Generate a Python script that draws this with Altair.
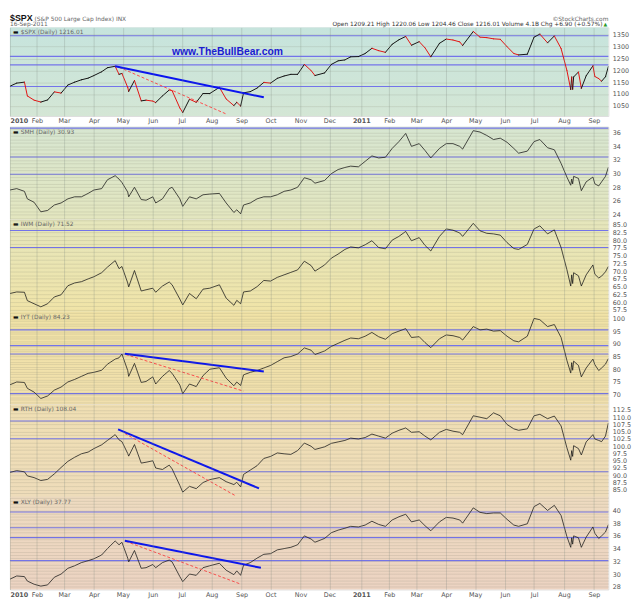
import altair as alt
import pandas as pd

# ------------------------------------------------------------------ data
dates_2010 = ["2010-01-04","2010-01-11","2010-01-19","2010-01-22","2010-01-29",
              "2010-02-05","2010-02-12","2010-02-19","2010-02-26",
              "2010-03-05","2010-03-12","2010-03-19","2010-03-26",
              "2010-04-01","2010-04-09","2010-04-15","2010-04-23","2010-04-27","2010-04-30",
              "2010-05-06","2010-05-07","2010-05-13","2010-05-20","2010-05-25",
              "2010-06-01","2010-06-04","2010-06-11","2010-06-18","2010-06-21","2010-06-29",
              "2010-07-02","2010-07-09","2010-07-16","2010-07-23","2010-07-30",
              "2010-08-09","2010-08-16","2010-08-24","2010-08-27","2010-08-31",
              "2010-09-03","2010-09-10","2010-09-17","2010-09-24",
              "2010-10-01","2010-10-08","2010-10-15","2010-10-22","2010-10-29",
              "2010-11-05","2010-11-12","2010-11-16","2010-11-26",
              "2010-12-03","2010-12-10","2010-12-17","2010-12-23","2010-12-31"]
dates_2011 = ["2011-01-07","2011-01-14","2011-01-21","2011-01-28",
              "2011-02-04","2011-02-11","2011-02-18","2011-02-24",
              "2011-03-04","2011-03-10","2011-03-16","2011-03-25",
              "2011-04-01","2011-04-08","2011-04-15","2011-04-18","2011-04-29",
              "2011-05-06","2011-05-13","2011-05-20","2011-05-27",
              "2011-06-03","2011-06-10","2011-06-15","2011-06-24",
              "2011-07-01","2011-07-07","2011-07-15","2011-07-22","2011-07-29",
              "2011-08-04","2011-08-08","2011-08-09","2011-08-10","2011-08-11",
              "2011-08-16","2011-08-19","2011-08-24","2011-08-31",
              "2011-09-02","2011-09-06","2011-09-09","2011-09-13","2011-09-16"]
dates = dates_2010 + dates_2011

spx = [1133,1146,1150,1092,1074, 1066,1075,1109,1104, 1138,1150,1160,1167,
       1178,1194,1211,1217,1183,1187, 1128,1111,1157,1071,1074,
       1070,1064,1092,1117,1114,1041, 1022,1078,1065,1102,1102,
       1128,1079,1051,1065,1049, 1105,1110,1125,1149, 1146,1166,1176,1183,1183,
       1225,1199,1178,1189, 1225,1240,1244,1257,1258,
       1271,1293,1283,1276, 1310,1329,1343,1306, 1321,1295,1257,1314,
       1332,1328,1320,1305,1364, 1340,1338,1333,1331, 1300,1271,1265,1268,
       1340,1353,1316,1345,1292, 1200,1119,1172,1120,1172,1193,1124,1177,1219,
       1174,1165,1154,1173,1216.01]
smh = [27.6,27.8,27.4,26.3,25.8, 24.4,24.6,25.4,25.7, 26.3,26.6,26.6,27.1,
       27.6,27.8,29.1,29.7,29.2,28.7, 27.3,26.6,28.0,26.2,26.1,
       26.6,25.7,26.3,27.8,28.0,26.3, 25.2,26.6,26.3,26.9,27.0,
       27.1,25.7,24.3,24.7,24.1, 25.4,25.7,26.3,26.6, 26.6,26.9,27.4,27.6,28.0,
       29.4,29.1,28.6,29.0, 30.0,30.6,30.9,31.1,31.0,
       31.8,32.6,32.3,32.4, 33.7,34.7,35.9,34.0, 34.4,33.4,32.3,33.7,
       34.4,34.4,34.0,33.6,36.3, 36.1,35.6,35.0,35.2, 34.6,33.7,33.0,33.3,
       34.7,35.0,33.8,33.5,31.5, 29.5,28.3,29.2,28.5,29.6,29.3,27.5,28.8,29.5,
       28.5,28.2,28.8,29.6,30.93]
iwm = [62.8,63.3,63.2,60.5,59.5, 58.5,59.5,61.7,62.4, 65.3,66.2,66.6,67.5,
       68.2,69.5,71.3,73.4,70.8,71.5, 66.2,64.9,70.2,63.6,64.0,
       64.5,63.2,65.2,66.5,65.6,61.0, 59.1,62.8,61.1,64.2,64.5,
       65.6,61.3,59.0,60.6,59.5, 63.3,63.6,65.0,67.0, 66.8,68.0,68.8,69.6,70.4,
       73.2,71.8,70.0,72.0, 74.2,75.5,77.0,77.8,77.5,
       78.5,79.8,77.6,77.2, 80.0,81.2,82.8,79.8, 80.8,78.3,76.5,81.2,
       83.6,83.2,82.3,81.2,85.4, 83.0,82.2,82.0,81.6, 79.2,77.3,77.0,78.6,
       83.6,84.6,82.0,83.3,77.6, 70.5,65.2,68.8,66.0,69.5,68.5,65.2,68.8,72.0,
       69.0,67.8,68.4,69.8,71.52]
iyt = [73.9,75.0,74.8,72.5,71.0, 68.5,69.5,71.8,73.0, 75.0,76.0,77.2,78.4,
       78.8,79.6,82.0,84.0,84.5,86.0, 79.5,77.2,82.3,74.8,75.2,
       77.0,74.2,77.2,79.5,78.4,73.8, 70.4,74.2,73.2,77.5,80.0,
       80.6,76.5,73.5,75.0,73.6, 77.8,78.8,79.5,80.5, 81.5,83.0,84.5,85.0,86.0,
       88.4,87.5,85.8,87.2, 89.0,90.2,91.4,92.3,92.0,
       93.0,94.5,92.8,91.8, 94.0,95.0,96.0,92.5, 92.8,90.5,88.5,92.0,
       93.5,93.2,92.5,91.5,96.8, 95.5,95.8,95.0,95.2, 93.0,91.2,90.8,93.0,
       100.0,99.5,96.8,97.6,92.5, 83.5,78.5,82.6,79.6,83.2,81.5,77.0,80.5,84.0,
       81.8,79.5,80.5,82.0,84.23]
rth = [91.0,91.6,91.2,89.8,89.2, 88.2,88.6,90.5,92.7, 94.8,96.2,97.4,98.0,
       99.2,100.5,102.0,104.0,102.2,101.6, 97.5,96.6,100.6,94.2,94.5,
       95.0,92.5,92.0,93.5,92.2,86.5, 84.2,86.2,85.4,87.5,88.5,
       89.2,87.8,86.8,87.6,86.0, 90.3,91.8,93.3,95.8, 96.5,97.7,97.4,97.2,98.5,
       101.1,100.0,98.9,99.8, 101.0,101.5,102.0,102.8,102.5,
       103.0,104.2,103.5,102.8, 104.5,105.5,106.3,104.8, 105.0,103.5,102.2,104.8,
       105.8,105.2,104.8,104.0,110.5, 110.0,109.5,111.5,110.5, 107.5,106.0,105.5,106.0,
       110.5,111.0,109.5,110.4,107.0, 99.5,95.2,98.5,96.5,100.2,99.2,97.0,101.5,104.0,
       102.5,102.0,101.6,103.5,108.04]
xly = [29.2,29.7,29.6,28.9,28.4, 28.1,28.3,29.5,30.0, 30.9,31.3,31.8,32.1,
       32.4,33.0,34.0,35.2,34.6,35.0, 32.5,31.9,33.7,30.9,31.0,
       31.5,31.0,31.8,32.2,31.9,29.6, 28.8,30.0,29.8,31.0,31.3,
       31.7,30.6,29.9,30.5,29.8, 31.4,31.8,32.5,33.1, 33.2,33.8,34.0,34.2,34.6,
       36.0,35.5,35.0,35.6, 36.5,36.9,37.2,37.5,37.4,
       37.7,38.3,37.8,37.5, 38.5,39.0,39.4,38.2, 38.5,37.6,36.8,38.2,
       38.9,38.8,38.5,38.0,40.4, 39.7,39.5,39.6,39.6, 38.6,37.7,37.5,37.9,
       40.6,41.1,40.0,40.8,39.2, 35.9,34.2,35.7,34.7,36.0,35.7,34.2,35.8,37.4,
       36.4,35.6,36.0,36.6,37.77]

# horizontal support/resistance levels (blue)
spx_levels = [1346, 1259, 1223, 1132]
smh_levels = [36.67, 32.45, 29.9]
iwm_levels = [83.1, 77.6]
iyt_levels = [95.5, 89.3, 86.0, 70.4]
rth_levels = [108.7, 102.6, 91.2]
xly_levels = [39.75, 37.28, 35.73, 32.11]

# trend lines: (start date, start value, end date, end value)
spx_blue = ("2010-04-23", 1217, "2010-09-24", 1086)
spx_red = ("2010-04-27", 1213, "2010-08-17", 1014)
iyt_blue = ("2010-05-03", 86.1, "2010-09-24", 79.1)
iyt_red = ("2010-05-04", 85.8, "2010-09-03", 71.4)
rth_blue = ("2010-04-26", 105.8, "2010-09-19", 85.5)
rth_red = ("2010-05-03", 104.4, "2010-08-26", 82.9)
xly_blue = ("2010-05-03", 35.23, "2010-09-21", 30.98)
xly_red = ("2010-05-04", 35.14, "2010-08-31", 28.42)

tick_dates = ["2010-01-04","2010-02-01","2010-03-01","2010-04-01","2010-05-01","2010-06-01",
              "2010-07-01","2010-08-01","2010-09-01","2010-10-01","2010-11-01","2010-12-01",
              "2011-01-03","2011-02-01","2011-03-01","2011-04-01","2011-05-01","2011-06-01",
              "2011-07-01","2011-08-01","2011-09-01"]
spx_ticks = [1050, 1100, 1150, 1200, 1250, 1300, 1350]

# ------------------------------------------------------------------ helpers
W = 608
START, END = "2010-01-04", "2011-09-16"
FONT = "DejaVu Sans"
LEVEL_BLUE = "#7474ea"


def dt(s):
    y, m, d = (int(p) for p in s.split("-"))
    return alt.DateTime(year=y, month=m, date=d, utc=True)


def xaxis(show_labels):
    common = dict(values=[dt(s) for s in tick_dates], ticks=False, domain=False, grid=True,
                  gridColor="#7f8a80", gridOpacity=0.28, gridWidth=1, zindex=1, title=None)
    if show_labels:
        return alt.Axis(labels=True,
                        labelExpr="utcmonth(datum.value) === 0 ? utcFormat(datum.value, '%Y') : utcFormat(datum.value, '%b')",
                        labelFontWeight={"condition": {"test": "utcmonth(datum.value) === 0", "value": "bold"},
                                         "value": "normal"},
                        labelFlush=True, labelOverlap=False, labelFontSize=6.5, labelColor="#555",
                        labelFont=FONT, labelPadding=2, **common)
    return alt.Axis(labels=False, **common)


def yaxis(values, expr):
    return alt.Axis(orient="right", values=values, labelExpr=expr, labelOverlap=False,
                    labelFontSize=6.5, labelColor="#555", labelFont=FONT, labelPadding=4,
                    ticks=False, domain=False, grid=True, gridColor="#7f7f6a", gridOpacity=0.22,
                    gridWidth=0.8, zindex=1, title=None)


def steps(lo, hi, step):
    out, v = [], lo
    while v <= hi + 1e-9:
        out.append(round(v, 3))
        v += step
    return out


def trend_df(t):
    return pd.DataFrame({"date": [t[0]], "v": [t[1]], "date2": [t[2]], "v2": [t[3]]})


def panel(label, vals, domain, yvals, yexpr, levels, grad, height, show_x, trends=None,
          colored=False, extra=None):
    X = alt.X("date:T", scale=alt.Scale(domain=[dt(START), dt(END)]), axis=xaxis(show_x), title=None)
    Y = alt.Y("v:Q", scale=alt.Scale(domain=domain, nice=False, zero=False), axis=yaxis(yvals, yexpr),
              title=None)
    one = pd.DataFrame({"a": [0]})
    layers = []
    bg = alt.Chart(one).mark_rect(fill=alt.Gradient(
        gradient="linear", x1=0, x2=0, y1=0, y2=1,
        stops=[alt.GradientStop(color=grad[0], offset=0), alt.GradientStop(color=grad[1], offset=1)]
    )).encode(x=alt.value(0), x2=alt.value(W), y=alt.value(0), y2=alt.value(height))
    layers.append(bg)
    layers.append(alt.Chart(pd.DataFrame({"v": levels})).mark_rule(
        color=LEVEL_BLUE, strokeWidth=1.1).encode(y=Y))
    if colored:
        seg = pd.DataFrame({"date": dates[:-1], "date2": dates[1:], "v": vals[:-1], "v2": vals[1:]})
        seg["dir"] = ["up" if b >= a else "down" for a, b in zip(vals[:-1], vals[1:])]
        layers.append(alt.Chart(seg).mark_rule(strokeWidth=1.0, strokeCap="round", clip=True).encode(
            x=X, x2=alt.X2("date2:T"), y=Y, y2=alt.Y2("v2:Q"),
            color=alt.Color("dir:N", scale=alt.Scale(domain=["up", "down"], range=["#111111", "#e31010"]),
                            legend=None)))
    else:
        df = pd.DataFrame({"date": dates, "v": vals})
        layers.append(alt.Chart(df).mark_line(color="#1a1a1a", strokeWidth=0.8, clip=True).encode(x=X, y=Y))
    if trends:
        blue, red = trends
        layers.append(alt.Chart(trend_df(red)).mark_rule(
            color="#ff4a4a", strokeWidth=1, strokeDash=[3, 2], clip=True).encode(
            x=X, x2=alt.X2("date2:T"), y=Y, y2=alt.Y2("v2:Q")))
        layers.append(alt.Chart(trend_df(blue)).mark_rule(
            color="#0a14f0", strokeWidth=2, clip=True).encode(
            x=X, x2=alt.X2("date2:T"), y=Y, y2=alt.Y2("v2:Q")))
    layers.append(alt.Chart(one).mark_text(text="▬", fontSize=6, align="left", baseline="middle",
                                           color="#111", font=FONT).encode(
        x=alt.value(3), y=alt.value(5)))
    layers.append(alt.Chart(one).mark_text(text=label, fontSize=6, align="left", baseline="middle",
                                           color="#666", font=FONT).encode(
        x=alt.value(11), y=alt.value(5)))
    if extra:
        layers.extend(extra)
    return alt.layer(*layers).properties(width=W, height=height)


def txt(text, x, y, size=6, color="#666", align="left", weight="normal", font=FONT, baseline="alphabetic"):
    return alt.Chart(pd.DataFrame({"a": [0]})).mark_text(
        text=text, fontSize=size, color=color, align=align, fontWeight=weight, font=font,
        baseline=baseline).encode(x=alt.value(x), y=alt.value(y))


header = [
    txt("$SPX", 0, -7, size=9, color="#111", weight="bold", font="Liberation Sans"),
    txt("(S&P 500 Large Cap Index)  INX", 25, -7, size=6),
    txt("16-Sep-2011", 0, -1, size=6),
    txt("©StockCharts.com", W, -7, size=6, align="right"),
    txt("Open 1209.21  High 1220.06  Low 1204.46  Close 1216.01  Volume 4.1B  Chg +6.90 (+0.57%)",
        W - 6, -1, size=6, color="#333", align="right"),
    txt("▲", W - 5, -1, size=5, color="#2a9a2a"),
    txt("www.TheBullBear.com", 221, 25, size=10.5, color="#1a1ad2", align="center", weight="bold",
        font="Liberation Sans", baseline="middle"),
]

p1 = panel("$SPX (Daily) 1216.01", spx, [1007, 1381], spx_ticks, "format(datum.value, 'd')",
           spx_levels, ("#c6e4dd", "#d4e6d5"), 90, True, trends=(spx_blue, spx_red),
           colored=True, extra=header)

p2 = panel("SMH (Daily) 30.93", smh, [23.29, 36.86], steps(23.5, 36.5, 0.5),
           "datum.value % 2 === 0 ? format(datum.value, 'd') : ''",
           smh_levels, ("#d7e6d1", "#e3e6bf"), 94, False)
p3 = panel("IWM (Daily) 71.52", iwm, [56.87, 86.68], steps(57.5, 86.25, 1.25),
           "(datum.value * 2) % 5 === 0 ? format(datum.value, '.1f') : ''",
           iwm_levels, ("#e5e6bc", "#f0e4a8"), 94, False)
p4 = panel("IYT (Daily) 84.23", iyt, [66.17, 102.57], steps(67, 102, 1),
           "datum.value % 5 === 0 ? format(datum.value, 'd') : ''",
           iyt_levels, ("#f1e3a6", "#f1e0ae"), 94, False, trends=(iyt_blue, iyt_red))
p5 = panel("RTH (Daily) 108.04", rth, [82.55, 114.41], steps(83.75, 113.75, 1.25),
           "(datum.value * 2) % 5 === 0 ? format(datum.value, '.1f') : ''",
           rth_levels, ("#f0dfb3", "#eedcba"), 94, False, trends=(rth_blue, rth_red))
p6 = panel("XLY (Daily) 37.77", xly, [27.58, 42.12], steps(28, 42, 0.5),
           "datum.value % 2 === 0 && datum.value <= 40 ? format(datum.value, 'd') : ''",
           xly_levels, ("#eedbc0", "#ecd3c2"), 94, True, trends=(xly_blue, xly_red))

inner = alt.vconcat(p2, p3, p4, p5, p6, spacing=0, bounds="flush")
chart = alt.vconcat(p1, inner, spacing=0).properties(
    padding={"left": 0, "top": 0, "right": 0, "bottom": 0}
).configure_view(stroke="#9a9a9a", strokeWidth=1).configure(font=FONT)

chart.save("out.html", embed_options={"renderer": "svg", "actions": False})
